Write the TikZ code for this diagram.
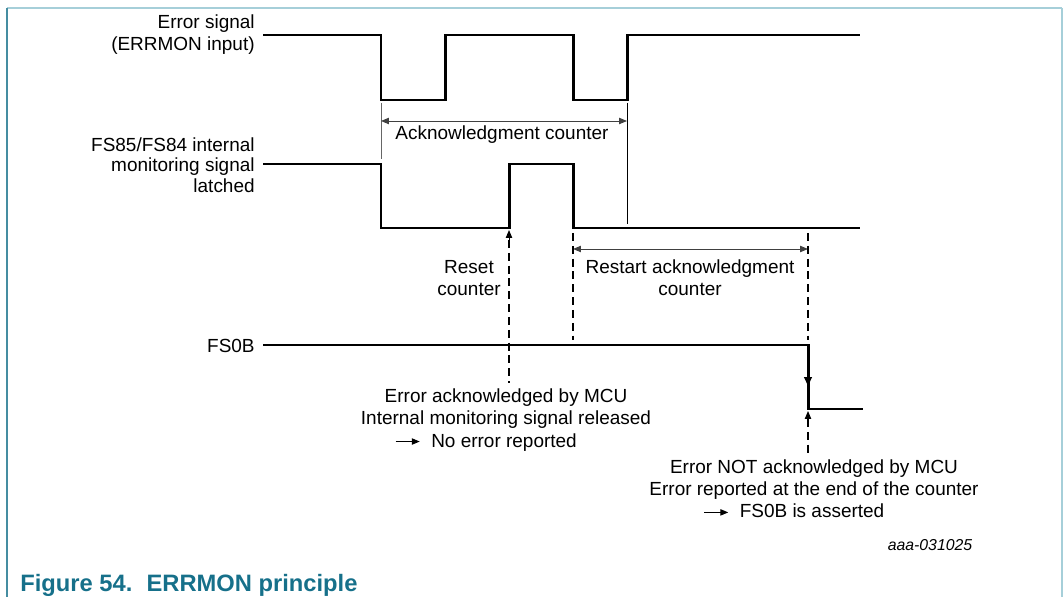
\documentclass[tikz,border=0pt]{standalone}
\usepackage{fontspec}
\setmainfont{Liberation Sans}
\usetikzlibrary{arrows.meta}

\definecolor{capteal}{RGB}{22,112,138}
\definecolor{framelight}{RGB}{166,207,217}

% small arrow used inside the result texts
\newcommand{\resarrow}{\tikz[baseline=-0.55ex,x=1cm,y=1cm]
    \draw[line width=0.6pt,-{Triangle[length=4.5pt,width=3.6pt]}] (0,0) -- (0.48,0);\hspace{0.22cm}}

\begin{document}
\begin{tikzpicture}[x=0.02cm,y=-0.02cm,
    >={Triangle[length=4.5pt,width=3.6pt]},
    sig/.style={line width=1.7pt},
    guide/.style={line width=0.55pt},
    dashguide/.style={line width=0.75pt, dash pattern=on 4.5pt off 2.8pt},
    lbl/.style={font=\fontsize{10.8}{12.6}\selectfont, align=center, inner sep=0pt}]

\useasboundingbox (0,0) rectangle (1064,597);

% Frame
\draw[framelight, line width=1.4pt] (7,8) -- (1062,8);
\draw[capteal!80, line width=1.1pt] (7,8) -- (7,597);
\draw[framelight, line width=1.4pt] (1062,8) -- (1062,597);

% Signal names
\node[lbl, align=right, anchor=east] (errname) at (255,35)
    {Error signal\\(ERRMON input)};
\node[lbl, align=right, anchor=east, font=\fontsize{10.8}{11.8}\selectfont] (latchname) at (255,165)
    {FS85/FS84 internal\\monitoring signal\\latched};
\node[lbl, align=right, anchor=east] (fsname) at (255,346) {FS0B};

% Waveforms
\draw[sig] (263,35) -- (381,35) -- (381,100) -- (445,100) -- (445,35)
    -- (573,35) -- (573,100) -- (627,100) -- (627,35) -- (860,35);
\draw[sig] (263,164) -- (381,164) -- (381,228) -- (509,228) -- (509,164)
    -- (573,164) -- (573,228) -- (860,228);
\draw[sig] (263,345) -- (808,345) -- (808,409) -- (863,409);
\draw[sig, -{Triangle[length=5pt,width=4.2pt]}] (808,360) -- (808,386);

% Acknowledgment counter
\draw[guide, black!60] (381,103) -- (381,159);
\draw[guide] (627,103) -- (627,224);
\draw[guide, black!75, <->] (381,121) -- (627,121);
\node[lbl] (acklbl) at (502,135) {Acknowledgment counter};

% Restart counter
\draw[guide, black!75, <->] (573,249) -- (808,249);
\node[lbl] (restartlbl) at (690,278) {Restart acknowledgment\\counter};
\node[lbl] (resetlbl) at (469,278) {Reset\\counter};

% Event markers
\coordinate (ackpt) at (509,230);
\coordinate (nackpt) at (808,411);
\draw[dashguide] (509,240) -- (509,383);
\draw[guide, ->] (509,243) -- (ackpt);
\draw[dashguide] (573,233) -- (573,340);
\draw[dashguide] (808,233) -- (808,340);
\draw[dashguide] (808,419) -- (808,454);
\draw[guide, ->] (808,422) -- (nackpt);

% Result texts
\node[lbl] (acktxt) at (506,420)
    {Error acknowledged by MCU\\Internal monitoring signal released\\\resarrow No error reported\kern0.8cm};
\node[lbl] (nacktxt) at (814,489)
    {Error NOT acknowledged by MCU\\Error reported at the end of the counter\\\resarrow FS0B is asserted\kern0.8cm};

% Figure id and caption
\node[lbl, font=\fontsize{9}{10}\selectfont\itshape] (figid) at (930,545) {aaa-031025};
\node[anchor=base west, inner sep=0pt, text=capteal,
    font=\fontsize{13.5}{16}\selectfont\bfseries] (caption) at (20,591)
    {Figure 54.\hspace{0.6em}ERRMON principle};

\end{tikzpicture}
\end{document}
